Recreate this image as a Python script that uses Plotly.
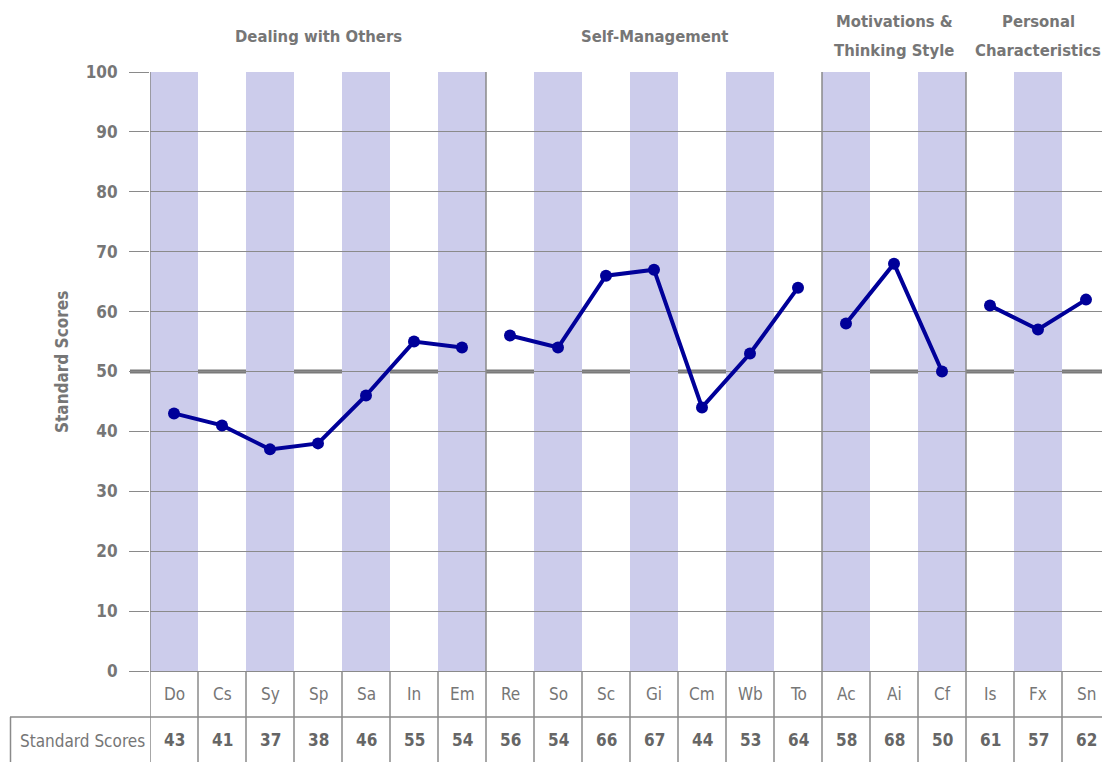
import plotly.graph_objects as go

# ---- data ----
categories = ["Do", "Cs", "Sy", "Sp", "Sa", "In", "Em",
              "Re", "So", "Sc", "Gi", "Cm", "Wb", "To",
              "Ac", "Ai", "Cf",
              "Is", "Fx", "Sn"]
scores = [43, 41, 37, 38, 46, 55, 54,
          56, 54, 66, 67, 44, 53, 64,
          58, 68, 50,
          61, 57, 62]
groups = [["Dealing with Others"], ["Self-Management"],
          ["Motivations &", "Thinking Style"], ["Personal", "Characteristics"]]
group_sizes = [7, 7, 3, 3]
y_ticks = [0, 10, 20, 30, 40, 50, 60, 70, 80, 90, 100]
row_label = "Standard Scores"
y_title = "Standard Scores"

# ---- layout geometry (reference pixel coords, page has an 8px body margin) ----
OFF = 8
W, H = 1110 - OFF, 762 - OFF
L, T = 150 - OFF, 72 - OFF
Y0_PX, Y100_PX = 671, 72
ppu = (Y0_PX - Y100_PX) / 100.0
y_bottom = -(762 - Y0_PX) / ppu
y_cat = -(694 - Y0_PX) / ppu
y_score = -(740 - Y0_PX) / ppu

FONT = "DejaVu Sans Condensed, Liberation Sans Narrow, DejaVu Sans, sans-serif"
GRAY_TXT = "#767676"
LINE_GRAY = "#8a8a8a"
STRIPE = "#cccceb"
NAVY = "#000099"

n = len(categories)
xs = list(range(n))


def px_to_paper_x(px):  # px in reference coords
    return (px - OFF - L) / (W - L)


def px_to_paper_y(py):
    return (H - (py - OFF)) / (H - T)


fig = go.Figure()

# line segments per group
start = 0
for size in group_sizes:
    idx = list(range(start, start + size))
    fig.add_trace(go.Scatter(
        x=[xs[i] for i in idx], y=[scores[i] for i in idx],
        mode="lines+markers",
        line=dict(color=NAVY, width=4),
        marker=dict(color=NAVY, size=12),
        showlegend=False, hoverinfo="skip", cliponaxis=False))
    start += size

shapes = []
# stripes
for i in range(0, n, 2):
    shapes.append(dict(type="rect", xref="x", yref="y", x0=i - 0.5, x1=i + 0.5,
                       y0=0, y1=100, fillcolor=STRIPE, line=dict(width=0), layer="below"))
# thick 50 line
shapes.append(dict(type="line", xref="paper", yref="y", x0=px_to_paper_x(130), x1=1,
                   y0=50, y1=50, line=dict(color="#7a7a7a", width=4), layer="below"))
# group separators
bounds = [-0.5]
acc = -0.5
for s in group_sizes:
    acc += s
    bounds.append(acc)
for b in bounds[:-1]:
    shapes.append(dict(type="line", xref="x", yref="y", x0=b, x1=b, y0=0, y1=100,
                       line=dict(color=LINE_GRAY, width=1.5), layer="above"))
# table vertical lines
for i in range(n + 1):
    xb = i - 0.5
    if i == n:
        xb = n - 0.5 - 0.02
    shapes.append(dict(type="line", xref="x", yref="y", x0=xb, x1=xb, y0=0, y1=y_bottom,
                       line=dict(color=LINE_GRAY, width=1.5)))
# table horizontal line and left cell border
shapes.append(dict(type="line", xref="paper", yref="paper",
                   x0=px_to_paper_x(10), x1=1, y0=px_to_paper_y(717), y1=px_to_paper_y(717),
                   line=dict(color=LINE_GRAY, width=1.5)))
shapes.append(dict(type="line", xref="paper", yref="paper",
                   x0=px_to_paper_x(10.5), x1=px_to_paper_x(10.5),
                   y0=px_to_paper_y(717), y1=0,
                   line=dict(color=LINE_GRAY, width=1.5)))

annotations = []
for i, c in enumerate(categories):
    annotations.append(dict(x=xs[i], y=y_cat, xref="x", yref="y", text=c, showarrow=False,
                            xanchor="center", yanchor="middle",
                            font=dict(family=FONT, size=17, color=GRAY_TXT)))
    annotations.append(dict(x=xs[i], y=y_score, xref="x", yref="y", text="<b>%d</b>" % scores[i],
                            showarrow=False, xanchor="center", yanchor="middle",
                            font=dict(family=FONT, size=17, color="#666666")))
annotations.append(dict(x=px_to_paper_x(82), y=px_to_paper_y(741), xref="paper", yref="paper",
                        text=row_label, showarrow=False, xanchor="center", yanchor="middle",
                        font=dict(family=FONT, size=17, color=GRAY_TXT)))
# group headers
start = -0.5
for lines, size in zip(groups, group_sizes):
    cx = start + size / 2.0
    ys = [36] if len(lines) == 1 else [22, 50]
    for text, ypx in zip(lines, ys):
        annotations.append(dict(x=cx, y=px_to_paper_y(ypx), xref="x", yref="paper",
                                text="<b>%s</b>" % text, showarrow=False,
                                xanchor="center", yanchor="middle",
                                font=dict(family=FONT, size=16.5, color=GRAY_TXT)))
    start += size
# y title
annotations.append(dict(x=px_to_paper_x(62), y=px_to_paper_y(362), xref="paper", yref="paper",
                        text="<b>%s</b>" % y_title, textangle=-90, showarrow=False,
                        xanchor="center", yanchor="middle",
                        font=dict(family=FONT, size=17, color=GRAY_TXT)))

fig.update_layout(
    width=W, height=H,
    margin=dict(l=L, r=0, t=T, b=0),
    paper_bgcolor="white", plot_bgcolor="white",
    shapes=shapes, annotations=annotations,
    xaxis=dict(range=[-0.5, n - 0.5], showticklabels=False, showgrid=False,
               zeroline=False, showline=False, ticks=""),
    yaxis=dict(range=[y_bottom, 100], tickvals=y_ticks,
               ticktext=["<b>%d</b>" % v for v in y_ticks],
               showgrid=True, gridcolor=LINE_GRAY, gridwidth=1.2,
               ticks="outside", ticklen=20, tickcolor=LINE_GRAY, tickwidth=1.2,
               ticklabelstandoff=8,
               tickfont=dict(family=FONT, size=17, color=GRAY_TXT),
               zeroline=False, showline=False),
)

fig.write_html("out.html")
